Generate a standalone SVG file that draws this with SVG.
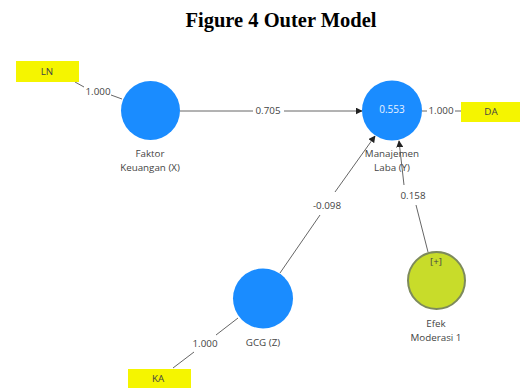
<svg xmlns="http://www.w3.org/2000/svg" width="521" height="390" viewBox="0 0 521 390">
<defs>
<style>
.title{font-family:"Liberation Serif","Times New Roman",serif;font-weight:bold;font-size:20.5px;fill:#000}
.lbl{font-family:"Open Sans","Noto Sans",sans-serif;font-size:9.8px;fill:#444;text-anchor:middle}
.w{font-family:"Open Sans","Noto Sans",sans-serif;font-size:10px;fill:#e8f2ff;text-anchor:middle}
.lv{fill:#1a8cff}
.mod{fill:#c8dc2a;stroke:#7d8a5c;stroke-width:2}
.ind{fill:#f5f500}
.c{stroke:#666;stroke-width:1;fill:none}
.a{stroke:#666;stroke-width:1;fill:none;marker-end:url(#arr)}
</style>
<marker id="arr" viewBox="0 0 10 10" refX="9" refY="5" markerWidth="7" markerHeight="7" orient="auto" markerUnits="userSpaceOnUse">
<path d="M0,0 L10,5 L0,10 z" fill="#222"/>
</marker>
</defs>
<rect width="521" height="390" fill="#fff"/>
<text class="title" x="281" y="27" text-anchor="middle">Figure 4 Outer Model</text>
<g id="connectors">
<path class="c" d="M75,82 L84,87"/>
<text class="lbl" x="98" y="95">1.000</text>
<path class="c" d="M111,95 L122,99"/>
<path class="c" d="M180,111 L253,111"/>
<text class="lbl" x="268" y="114">0.705</text>
<path class="a" d="M284,111 L362,111"/>
<path class="c" d="M422,111 L427,111"/>
<text class="lbl" x="441" y="114">1.000</text>
<path class="c" d="M455,111 L461,111"/>
<path class="c" d="M280,273 L320,215"/>
<text class="lbl" x="327" y="209">-0.098</text>
<path class="a" d="M335,192 L375,136"/>
<path class="c" d="M428,252 L416,205"/>
<text class="lbl" x="413" y="199">0.158</text>
<path class="a" d="M404,185 L399,141"/>
<path class="c" d="M173,368 L194,352"/>
<text class="lbl" x="205" y="347">1.000</text>
<path class="c" d="M216,335 L238,318"/>
</g>
<g id="LN">
<rect class="ind" x="16" y="61" width="63" height="21"/>
<text class="lbl" x="47" y="75">LN</text>
</g>
<g id="FaktorKeuangan">
<circle class="lv" cx="150.5" cy="110.5" r="29.5"/>
<text class="lbl" x="150" y="157">Faktor</text>
<text class="lbl" x="150" y="171">Keuangan (X)</text>
</g>
<g id="ManajemenLaba">
<circle class="lv" cx="392" cy="110.5" r="30"/>
<text class="w" x="392" y="113">0.553</text>
<text class="lbl" x="392" y="157">Manajemen</text>
<text class="lbl" x="392" y="171">Laba (Y)</text>
</g>
<g id="DA">
<rect class="ind" x="461" y="102" width="59" height="20"/>
<text class="lbl" x="491" y="115">DA</text>
</g>
<g id="GCG">
<circle class="lv" cx="263" cy="298.5" r="30"/>
<text class="lbl" x="263" y="346">GCG (Z)</text>
</g>
<g id="EfekModerasi">
<circle class="mod" cx="436.5" cy="280.5" r="28.5"/>
<text class="lbl" x="436" y="265">[+]</text>
<text class="lbl" x="436" y="327">Efek</text>
<text class="lbl" x="436" y="341">Moderasi 1</text>
</g>
<g id="KA">
<rect class="ind" x="128" y="369" width="63" height="19"/>
<text class="lbl" x="158" y="382">KA</text>
</g>
</svg>
